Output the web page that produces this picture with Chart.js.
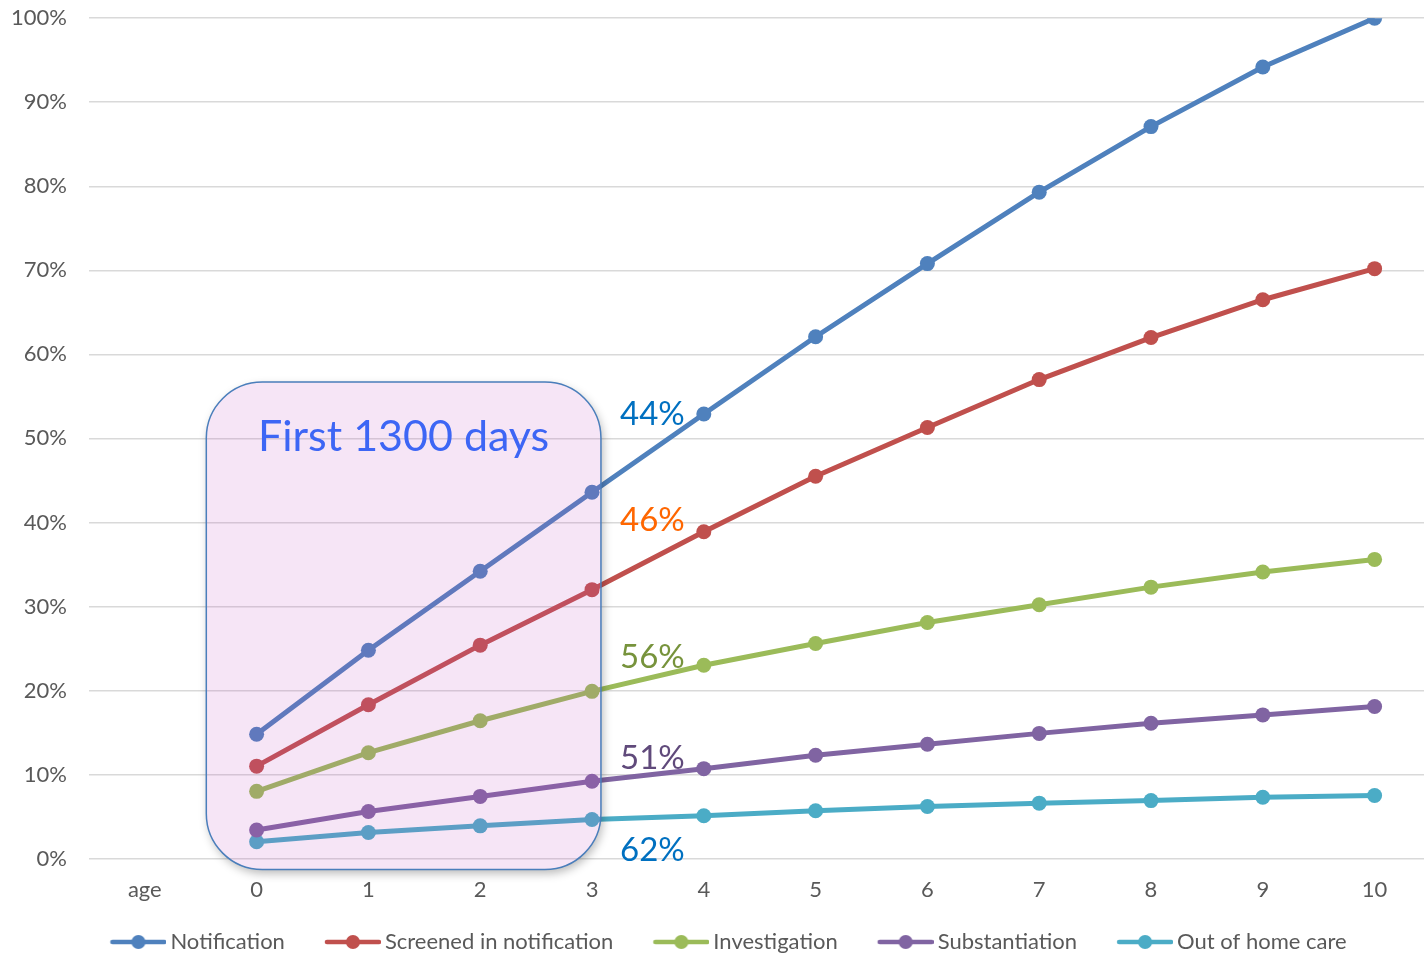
<!DOCTYPE html>
<html>
<head>
<meta charset="utf-8">
<script src="https://cdn.jsdelivr.net/npm/chart.js@4/dist/chart.umd.min.js"></script>
<style>
  html, body { margin: 0; padding: 0; background: #ffffff; overflow: hidden; }
  #wrap { width: 1424px; height: 955px; position: relative; overflow: hidden; }
  #inner { position: absolute; left: 0; top: -17px; width: 1438px; height: 974px; }
</style>
</head>
<body>
<div id="wrap"><div id="inner"><canvas id="chart"></canvas></div></div>
<script>
// Categories along the x axis ("age" is a heading slot with no values)
const categories = ['age', '0', '1', '2', '3', '4', '5', '6', '7', '8', '9', '10'];

// Cumulative percentage of children reaching each stage by age
const notification   = [null, 14.8, 24.8, 34.2, 43.6, 52.9, 62.1, 70.8, 79.3, 87.1, 94.2, 100];
const screenedIn     = [null, 11.0, 18.3, 25.4, 32.0, 38.9, 45.5, 51.3, 57.0, 62.0, 66.5, 70.2];
const investigation  = [null, 8.0, 12.6, 16.4, 19.9, 23.0, 25.6, 28.1, 30.2, 32.3, 34.1, 35.6];
const substantiation = [null, 3.4, 5.6, 7.4, 9.2, 10.7, 12.3, 13.6, 14.9, 16.1, 17.1, 18.1];
const outOfHomeCare  = [null, 2.0, 3.1, 3.9, 4.65, 5.1, 5.7, 6.2, 6.6, 6.9, 7.3, 7.5];

const seriesNames = ['Notification', 'Screened in notification', 'Investigation', 'Substantiation', 'Out of home care'];
const seriesData  = [notification, screenedIn, investigation, substantiation, outOfHomeCare];
const seriesColors = ['#4f81bd', '#c0504d', '#9bbb59', '#8064a2', '#4bacc6'];

// Share of the age-10 total already reached by age 3, one label per series
const labelColors = ['#0070c0', '#ff6600', '#77933c', '#604a7b', '#0070c0'];
const labelYValues = [52.9, 40.2, 23.9, 11.9, 0.95];

const yTicks = [0, 10, 20, 30, 40, 50, 60, 70, 80, 90, 100];

const FONT = 'Lato, "Open Sans", sans-serif';

// Legend marker: a short line with a dot in the middle, drawn at the right
// end of a wider transparent strip so items sit further apart
const MARK_BOX = 79;
function legendMarker(color) {
  const c = document.createElement('canvas');
  c.width = MARK_BOX + 14; c.height = 16;
  const g = c.getContext('2d');
  const x1 = c.width - 56, x2 = c.width;
  g.strokeStyle = color;
  g.lineWidth = 4.5;
  g.lineCap = 'round';
  g.beginPath(); g.moveTo(x1 + 2, 8); g.lineTo(x2 - 2, 8); g.stroke();
  g.fillStyle = color;
  g.beginPath(); g.arc((x1 + x2) / 2, 8, 7, 0, Math.PI * 2); g.fill();
  return c;
}
const markers = seriesColors.map(legendMarker);

function roundRectSub(ctx, x, y, w, h, r) {
  ctx.moveTo(x + r, y);
  ctx.lineTo(x + w - r, y);
  ctx.arcTo(x + w, y, x + w, y + r, r);
  ctx.lineTo(x + w, y + h - r);
  ctx.arcTo(x + w, y + h, x + w - r, y + h, r);
  ctx.lineTo(x + r, y + h);
  ctx.arcTo(x, y + h, x, y + h - r, r);
  ctx.lineTo(x, y + r);
  ctx.arcTo(x, y, x + r, y, r);
  ctx.closePath();
}

// Highlight box over the first years plus the percentage labels
const overlayPlugin = {
  id: 'overlay',
  afterDatasetsDraw(chart) {
    const ctx = chart.ctx;
    const xs = chart.scales.x, ys = chart.scales.y;
    const x0 = xs.getPixelForValue(1);
    const dx = xs.getPixelForValue(2) - x0;
    const left = x0 - 0.45 * dx;
    const right = xs.getPixelForValue(4) + 0.08 * dx;
    const top = ys.getPixelForValue(56.7);
    const bottom = ys.getPixelForValue(-1.3);
    const w = right - left, h = bottom - top, r = 56;

    // soft drop shadow outside the box only
    ctx.save();
    ctx.beginPath();
    ctx.rect(0, 0, chart.width, chart.height);
    roundRectSub(ctx, left, top, w, h, r);
    ctx.clip('evenodd');
    ctx.beginPath();
    roundRectSub(ctx, left, top, w, h, r);
    ctx.shadowColor = 'rgba(0,0,0,0.28)';
    ctx.shadowBlur = 10;
    ctx.shadowOffsetX = 2;
    ctx.shadowOffsetY = 4;
    ctx.fillStyle = '#ffffff';
    ctx.fill();
    ctx.restore();

    ctx.save();
    ctx.beginPath();
    roundRectSub(ctx, left, top, w, h, r);
    ctx.fillStyle = 'rgba(195, 80, 195, 0.15)';
    ctx.fill();
    ctx.lineWidth = 1.5;
    ctx.strokeStyle = '#4a7ebb';
    ctx.stroke();

    ctx.fillStyle = '#3d66f5';
    ctx.font = '43px ' + FONT;
    ctx.textAlign = 'center';
    ctx.textBaseline = 'middle';
    ctx.fillText('First 1300 days', (left + right) / 2, top + 55);

    ctx.font = '33px ' + FONT;
    ctx.textAlign = 'left';
    const lx = xs.getPixelForValue(4) + 28;
    seriesData.forEach((d, i) => {
      const pct = Math.round(d[4] / d[11] * 100) + '%';
      ctx.fillStyle = labelColors[i];
      ctx.fillText(pct, lx, ys.getPixelForValue(labelYValues[i]));
    });
    ctx.restore();
  }
};

new Chart(document.getElementById('chart'), {
  type: 'line',
  data: {
    labels: categories,
    datasets: seriesNames.map((name, i) => ({
      label: name,
      data: seriesData[i],
      borderColor: seriesColors[i],
      backgroundColor: seriesColors[i],
      borderWidth: 5,
      pointRadius: 7.5,
      pointHoverRadius: 7.5,
      pointBorderWidth: 0,
      tension: 0
    }))
  },
  options: {
    responsive: true,
    maintainAspectRatio: false,
    animation: false,
    layout: { padding: { left: -11, right: 0, top: -10, bottom: -6 } },
    plugins: {
      tooltip: { enabled: false },
      legend: {
        position: 'bottom',
        labels: {
          usePointStyle: true,
          pointStyleWidth: MARK_BOX,
          boxHeight: 16,
          padding: 10,
          color: '#595959',
          font: { family: FONT, size: 22 },
          generateLabels(chart) {
            const items = Chart.defaults.plugins.legend.labels.generateLabels(chart);
            items.forEach((it, i) => { it.pointStyle = markers[i]; });
            return items;
          }
        }
      }
    },
    scales: {
      x: {
        type: 'category',
        offset: true,
        grid: { display: false, drawTicks: false },
        border: { display: false },
        ticks: { color: '#595959', font: { family: FONT, size: 22 }, padding: 18, maxRotation: 0, autoSkip: false }
      },
      y: {
        min: 0,
        max: 100,
        afterBuildTicks(axis) { axis.ticks = yTicks.map(v => ({ value: v })); },
        grid: { color: '#d9d9d9', lineWidth: 1.5, drawTicks: false },
        border: { display: false },
        ticks: {
          color: '#595959',
          font: { family: FONT, size: 22 },
          padding: 22,
          callback: v => v + '%'
        }
      }
    }
  },
  plugins: [overlayPlugin]
});
</script>
</body>
</html>
